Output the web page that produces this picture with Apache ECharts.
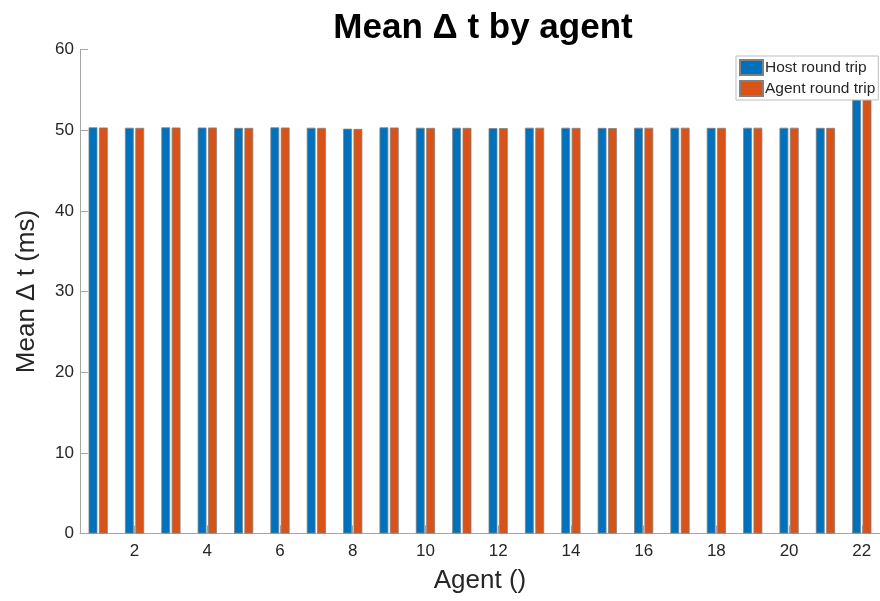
<!DOCTYPE html>
<html>
<head>
<meta charset="utf-8">
<script src="https://cdn.jsdelivr.net/npm/echarts@6/dist/echarts.min.js"></script>
<style>
  html, body { margin: 0; padding: 0; background: #fff; }
  #chart { width: 880px; height: 601px; }
</style>
</head>
<body>
<div id="chart"></div>
<script>
// Agent numbers along the x axis
const agents = ['1','2','3','4','5','6','7','8','9','10','11','12','13','14','15','16','17','18','19','20','21','22'];

// Mean round-trip time per agent (ms)
const hostRoundTrip = [50.35, 50.30, 50.35, 50.33, 50.28, 50.35, 50.30, 50.18, 50.35, 50.30, 50.30,
                       50.25, 50.30, 50.30, 50.28, 50.30, 50.30, 50.28, 50.30, 50.30, 50.28, 57.5];
const agentRoundTrip = [50.33, 50.28, 50.33, 50.33, 50.28, 50.33, 50.28, 50.15, 50.33, 50.28, 50.28,
                        50.25, 50.30, 50.28, 50.25, 50.30, 50.30, 50.28, 50.30, 50.30, 50.28, 57.4];

const FONT = 'Liberation Sans, Arial, sans-serif';
const AXIS_GRAY = '#a6a6a6';
const TEXT = '#262626';
const everyOther = (index) => index % 2 === 1;

const chart = echarts.init(document.getElementById('chart'), null, { renderer: 'canvas' });

const barStyle = (color) => ({
  color: color,
  borderColor: '#808080',
  borderWidth: 0.8
});

chart.setOption({
  animation: false,
  backgroundColor: '#ffffff',
  textStyle: { fontFamily: FONT },
  title: {
    text: 'Mean Δ t by agent',
    left: 483,
    textAlign: 'center',
    top: 6,
    textStyle: { fontFamily: FONT, fontSize: 35, fontWeight: 'bold', color: '#000000' }
  },
  legend: {
    orient: 'vertical',
    left: 736,
    top: 56,
    padding: [3, 3, 3, 3],
    itemWidth: 23,
    itemHeight: 15,
    itemGap: 4,
    borderColor: '#bdbdbd',
    borderWidth: 1,
    backgroundColor: '#ffffff',
    icon: 'rect',
    textStyle: { fontFamily: FONT, fontSize: 15.5, color: TEXT, padding: [0, 0, 0, -3] },
    data: ['Host round trip', 'Agent round trip']
  },
  grid: {
    left: 80,
    top: 49.5,
    width: 805,
    height: 484,
    containLabel: false
  },
  xAxis: {
    type: 'category',
    data: agents,
    boundaryGap: true,
    name: 'Agent ()',
    nameLocation: 'middle',
    nameGap: 34,
    nameTextStyle: { fontFamily: FONT, fontSize: 26, color: TEXT },
    axisLine: { show: true, lineStyle: { color: AXIS_GRAY, width: 1 } },
    axisTick: {
      show: true,
      inside: true,
      length: 8,
      alignWithLabel: true,
      interval: everyOther,
      lineStyle: { color: AXIS_GRAY }
    },
    axisLabel: {
      interval: everyOther,
      fontFamily: FONT,
      fontSize: 17,
      color: TEXT,
      margin: 9
    },
    splitLine: { show: false }
  },
  yAxis: {
    type: 'value',
    min: 0,
    max: 60,
    interval: 10,
    name: 'Mean Δ t (ms)',
    nameLocation: 'middle',
    nameGap: 40,
    nameTextStyle: { fontFamily: FONT, fontSize: 26, color: TEXT },
    axisLine: { show: true, lineStyle: { color: AXIS_GRAY, width: 1 } },
    axisTick: { show: true, inside: true, length: 8, lineStyle: { color: AXIS_GRAY } },
    axisLabel: { fontFamily: FONT, fontSize: 17, color: TEXT, margin: 6 },
    splitLine: { show: false }
  },
  series: [
    {
      name: 'Host round trip',
      type: 'bar',
      data: hostRoundTrip,
      barWidth: 8.8,
      barGap: '18%',
      itemStyle: barStyle('#0072BD')
    },
    {
      name: 'Agent round trip',
      type: 'bar',
      data: agentRoundTrip,
      barWidth: 8.8,
      barGap: '18%',
      itemStyle: barStyle('#D95319')
    }
  ]
});
// Title centred over the plot area, which runs past the right edge of the canvas
chart.setOption({ title: { left: 478 } });
</script>
</body>
</html>
